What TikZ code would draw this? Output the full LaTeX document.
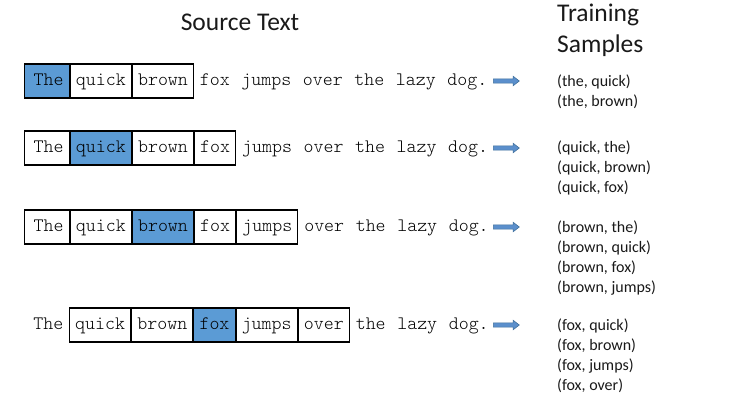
\documentclass[tikz,border=0pt]{standalone}
\usepackage{fontspec}
\setmainfont{Carlito}
\newfontfamily\wfont{lmmonolt10-regular.otf}
\usetikzlibrary{shapes.arrows}
\definecolor{hlblue}{HTML}{5B9BD5}
\definecolor{arfill}{HTML}{5B8FCC}
\definecolor{arline}{HTML}{41719C}
\tikzset{
  wd/.style={font=\wfont\fontsize{19}{22}\selectfont, inner xsep=5.6pt, inner ysep=0pt,
    minimum height=34pt, text height=12pt, text depth=4pt, anchor=west, text=black},
  bx/.style={wd, draw=black, line width=1.1pt},
  hl/.style={bx, fill=hlblue},
  pair/.style={font=\fontsize{16}{20}\selectfont, anchor=base west, inner sep=0pt, text=black!90},
  ttl/.style={font=\fontsize{25.5}{31}\selectfont, inner sep=0pt, text=black!90},
  arr/.style={single arrow, draw=arline, fill=arfill, line width=0.6pt, inner sep=1.8pt,
    single arrow head extend=2.6pt, single arrow tip angle=75, minimum height=26pt,
    anchor=west},
}
\begin{document}
\begin{tikzpicture}[x=1pt,y=-1pt]
\useasboundingbox (0,0) rectangle (751,418);
% titles
\node[ttl, anchor=base] (src) at (240,30) {Source Text};
\node[ttl, anchor=base west] (tr1) at (557,21) {Training};
\node[ttl, anchor=base west] (tr2) at (557,52) {Samples};

% row 1
\node[hl] (a1) at (24,81) {\hspace{3.5pt}The};
\node[bx] (a2) at (a1.east) {quick};
\node[bx] (a3) at (a2.east) {brown};
\node[wd] (a4) at (a3.east) {fox};
\node[wd] (a5) at (a4.east) {jumps};
\node[wd] (a6) at (a5.east) {over};
\node[wd] (a7) at (a6.east) {the};
\node[wd] (a8) at (a7.east) {lazy};
\node[wd] (a9) at (a8.east) {dog.};
\node[arr] (ar1) at (493,81) {};
\node[pair] (p11) at (557,86) {(the, quick)};
\node[pair] (p12) at (557,106) {(the, brown)};

% row 2
\node[bx] (b1) at (24,148) {\hspace{3.5pt}The};
\node[hl] (b2) at (b1.east) {quick};
\node[bx] (b3) at (b2.east) {brown};
\node[bx] (b4) at (b3.east) {fox};
\node[wd] (b5) at (b4.east) {jumps};
\node[wd] (b6) at (b5.east) {over};
\node[wd] (b7) at (b6.east) {the};
\node[wd] (b8) at (b7.east) {lazy};
\node[wd] (b9) at (b8.east) {dog.};
\node[arr] (ar2) at (493,148) {};
\node[pair] (p21) at (557,152) {(quick, the)};
\node[pair] (p22) at (557,172) {(quick, brown)};
\node[pair] (p23) at (557,192) {(quick, fox)};

% row 3
\node[bx] (c1) at (24,227) {\hspace{3.5pt}The};
\node[bx] (c2) at (c1.east) {quick};
\node[hl] (c3) at (c2.east) {brown};
\node[bx] (c4) at (c3.east) {fox};
\node[bx] (c5) at (c4.east) {jumps};
\node[wd] (c6) at (c5.east) {over};
\node[wd] (c7) at (c6.east) {the};
\node[wd] (c8) at (c7.east) {lazy};
\node[wd] (c9) at (c8.east) {dog.};
\node[arr] (ar3) at (493,227) {};
\node[pair] (p31) at (557,232) {(brown, the)};
\node[pair] (p32) at (557,252) {(brown, quick)};
\node[pair] (p33) at (557,272) {(brown, fox)};
\node[pair] (p34) at (557,292) {(brown, jumps)};

% row 4
\node[wd] (d1) at (24,325) {\hspace{3.5pt}The};
\node[bx] (d2) at (d1.east) {quick};
\node[bx] (d3) at (d2.east) {brown};
\node[hl] (d4) at (d3.east) {fox};
\node[bx] (d5) at (d4.east) {jumps};
\node[bx] (d6) at (d5.east) {over};
\node[wd] (d7) at (d6.east) {the};
\node[wd] (d8) at (d7.east) {lazy};
\node[wd] (d9) at (d8.east) {dog.};
\node[arr] (ar4) at (493,325) {};
\node[pair] (p41) at (557,330) {(fox, quick)};
\node[pair] (p42) at (557,350) {(fox, brown)};
\node[pair] (p43) at (557,370) {(fox, jumps)};
\node[pair] (p44) at (557,390) {(fox, over)};
\end{tikzpicture}
\end{document}
